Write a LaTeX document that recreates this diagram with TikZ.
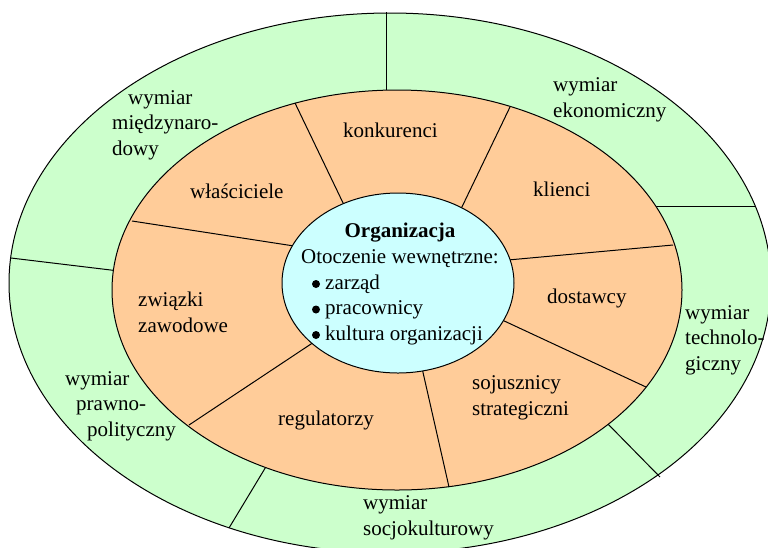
\documentclass[tikz,border=0pt]{standalone}
\usepackage{fontspec}
\setmainfont{Liberation Serif}
\definecolor{ringgreen}{HTML}{CCFFCC}
\definecolor{ringorange}{HTML}{FFCC99}
\definecolor{corecyan}{HTML}{CCFFFF}
\begin{document}
\begin{tikzpicture}[x=1pt,y=-1pt,
  ringline/.style={draw=black, line width=1pt},
  divider/.style={draw=black, line width=1pt},
  dotmark/.style={fill=black},
  lbl/.style={font=\fontsize{21}{25.5}\selectfont, inner sep=0pt, anchor=base west, align=left}]
\clip (0,0) rectangle (768,547);
\fill[white] (0,0) rectangle (768,547);
% outer ring
\filldraw[ringline, fill=ringgreen] (390,283) ellipse [x radius=381pt, y radius=270pt];
\draw[divider] (386,12) -- (386,95);
\draw[divider] (652,206) -- (756,206);
\draw[divider] (606,422) -- (660,477);
\draw[divider] (267,465) -- (229,528);
\draw[divider] (11,258) -- (119,271);
% middle ring
\filldraw[ringline, fill=ringorange] (397,290) ellipse [x radius=285pt, y radius=200pt];
\draw[divider] (295,103) -- (345,207);
\draw[divider] (510,107) -- (460,211);
\draw[divider] (673,245) -- (508,260);
\draw[divider] (500,319) -- (646,387);
\draw[divider] (422,368) -- (449,487);
\draw[divider] (314,342) -- (189,425);
\draw[divider] (294,246) -- (132,221);
% core
\filldraw[ringline, fill=corecyan] (398,283) ellipse [x radius=116pt, y radius=90pt];
% labels (anchor = baseline of the last line)
\node[lbl] (miedzy) at (112,155) {\hspace*{16pt}wymiar\\międzynaro-\\dowy};
\node[lbl] (ekon) at (553,117) {wymiar\\ekonomiczny};
\node[lbl] (tech) at (685,370) {wymiar\\technolo-\\giczny};
\node[lbl] (socjo) at (363,535) {wymiar\\socjokulturowy};
\node[lbl] (prawno) at (65,436) {wymiar\\\hspace*{11pt}prawno-\\\hspace*{22pt}polityczny};
\node[lbl] (wlasc) at (190,198) {właściciele};
\node[lbl] (konk) at (343,137) {konkurenci};
\node[lbl] (klienci) at (533,196) {klienci};
\node[lbl] (dost) at (547,303) {dostawcy};
\node[lbl] (soj) at (472,415) {sojusznicy\\strategiczni};
\node[lbl] (reg) at (278,425) {regulatorzy};
\node[lbl] (zw) at (138,332) {związki\\zawodowe};
\node[lbl, anchor=base, align=center] (org) at (400,263) {\textbf{Organizacja}\\Otoczenie wewnętrzne:};
\node[lbl] (items) at (325,340) {zarząd\\pracownicy\\kultura organizacji};
% bullets
\fill[dotmark] (316,284) circle [radius=4pt];
\fill[dotmark] (316,309.5) circle [radius=4pt];
\fill[dotmark] (316,335) circle [radius=4pt];
\end{tikzpicture}
\end{document}
